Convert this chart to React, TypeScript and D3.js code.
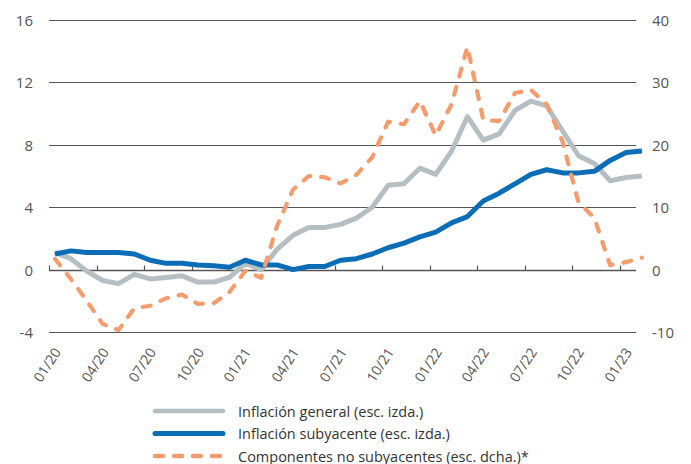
import React from "react";
import * as d3 from "d3";

const tickLabels = ["01/20","04/20","07/20","10/20","01/21","04/21","07/21","10/21","01/22","04/22","07/22","10/22","01/23"];
const leftTicks = [-4, 0, 4, 8, 12, 16];
const rightTicks = [-10, 0, 10, 20, 30, 40];

const general = [1.1, 0.7, -0.1, -0.7, -0.9, -0.3, -0.6, -0.5, -0.4, -0.8, -0.8, -0.5, 0.4, 0.0, 1.3, 2.2, 2.7, 2.7, 2.9, 3.3, 4.0, 5.4, 5.5, 6.5, 6.1, 7.6, 9.8, 8.3, 8.7, 10.2, 10.8, 10.5, 8.9, 7.3, 6.8, 5.7, 5.9, 6.0];
const core = [1.0, 1.2, 1.1, 1.1, 1.1, 1.0, 0.6, 0.4, 0.4, 0.3, 0.25, 0.15, 0.6, 0.3, 0.3, 0.0, 0.2, 0.2, 0.6, 0.7, 1.0, 1.4, 1.7, 2.1, 2.4, 3.0, 3.4, 4.4, 4.9, 5.5, 6.1, 6.4, 6.2, 6.2, 6.3, 7.0, 7.5, 7.6];
const nonCore = [1.7, -1.5, -5.0, -8.7, -9.7, -6.2, -5.8, -4.6, -4.0, -5.5, -5.4, -3.6, -0.2, -1.3, 7.0, 12.8, 15.0, 14.8, 13.8, 15.2, 18.0, 23.7, 23.3, 27.0, 21.5, 26.5, 35.7, 24.0, 23.8, 28.3, 28.8, 26.5, 20.5, 10.8, 8.3, 0.7, 1.2, 1.9];

const legendItems = [
  { label: "Inflación general (esc. izda.)", color: "#B5BFC3", dash: null, width: 4.5 },
  { label: "Inflación subyacente (esc. izda.)", color: "#0A6DB5", dash: null, width: 5 },
  { label: "Componentes no subyacentes (esc. dcha.)*", color: "#F39C6D", dash: "8 11", width: 4.5 },
];

const W = 691, H = 464;
const plotLeft = 49, plotRight = 636, plotTop = 20, plotBottom = 332;
const FONT = "'Open Sans', 'Noto Sans', sans-serif";

export default function App() {
  const x = d3.scaleLinear().domain([0, 36]).range([plotLeft, 620]);
  const yL = d3.scaleLinear().domain([-4, 16]).range([plotBottom, plotTop]);
  const yR = d3.scaleLinear().domain([-10, 40]).range([plotBottom, plotTop]);
  const off = 0.38;

  const lineL = d3.line<number>().x((_, i) => x(i + off)).y((d) => yL(d));
  const lineR = d3.line<number>().x((_, i) => x(i + off)).y((d) => yR(d));

  const y0 = Math.round(yL(0)) + 0.5;

  return (
    <svg width={W} height={H} style={{ position: "absolute", left: 0, top: 0, background: "#fff" }} fontFamily={FONT}>
      {leftTicks.filter((t) => t !== 0).map((t) => (
        <line key={"g" + t} x1={plotLeft} x2={plotRight} y1={Math.round(yL(t)) + 0.5} y2={Math.round(yL(t)) + 0.5} stroke="#555" strokeWidth={1} />
      ))}
      {leftTicks.map((t) => (
        <text key={"l" + t} x={33} y={yL(t)} textAnchor="end" dominantBaseline="central" fontSize={15} fill="#555">{t}</text>
      ))}
      {rightTicks.map((t) => (
        <text key={"r" + t} x={652} y={yR(t)} textAnchor="start" dominantBaseline="central" fontSize={15} fill="#555">{t}</text>
      ))}
      <line x1={plotLeft} x2={plotRight} y1={y0} y2={y0} stroke="#555" strokeWidth={1.5} />
      {tickLabels.map((lab, k) => {
        const tx = Math.round(x(k * 3)) + 0.5;
        return (
          <g key={"t" + lab}>
            <line x1={tx} x2={tx} y1={y0} y2={y0 - 5} stroke="#555" strokeWidth={1.2} />
            <text transform={`translate(${tx + 12},${352}) rotate(-57)`} textAnchor="end" fontSize={14} fill="#555">{lab}</text>
          </g>
        );
      })}
      <path d={lineL(general) || ""} fill="none" stroke={legendItems[0].color} strokeWidth={5} strokeLinejoin="round" />
      <path d={lineL(core) || ""} fill="none" stroke={legendItems[1].color} strokeWidth={5} strokeLinejoin="round" />
      <path d={lineR(nonCore) || ""} fill="none" stroke={legendItems[2].color} strokeWidth={4.2} strokeDasharray="8 11" strokeLinecap="round" strokeLinejoin="round" />
      {legendItems.map((it, k) => {
        const ly = 411 + k * 22.5;
        return (
          <g key={"lg" + k}>
            <line x1={155} x2={223} y1={ly} y2={ly} stroke={it.color} strokeWidth={it.width} strokeLinecap="round" strokeDasharray={it.dash || undefined} />
            <text x={238} y={ly} dominantBaseline="central" fontSize={14.5} fill="#333">{it.label}</text>
          </g>
        );
      })}
    </svg>
  );
}
